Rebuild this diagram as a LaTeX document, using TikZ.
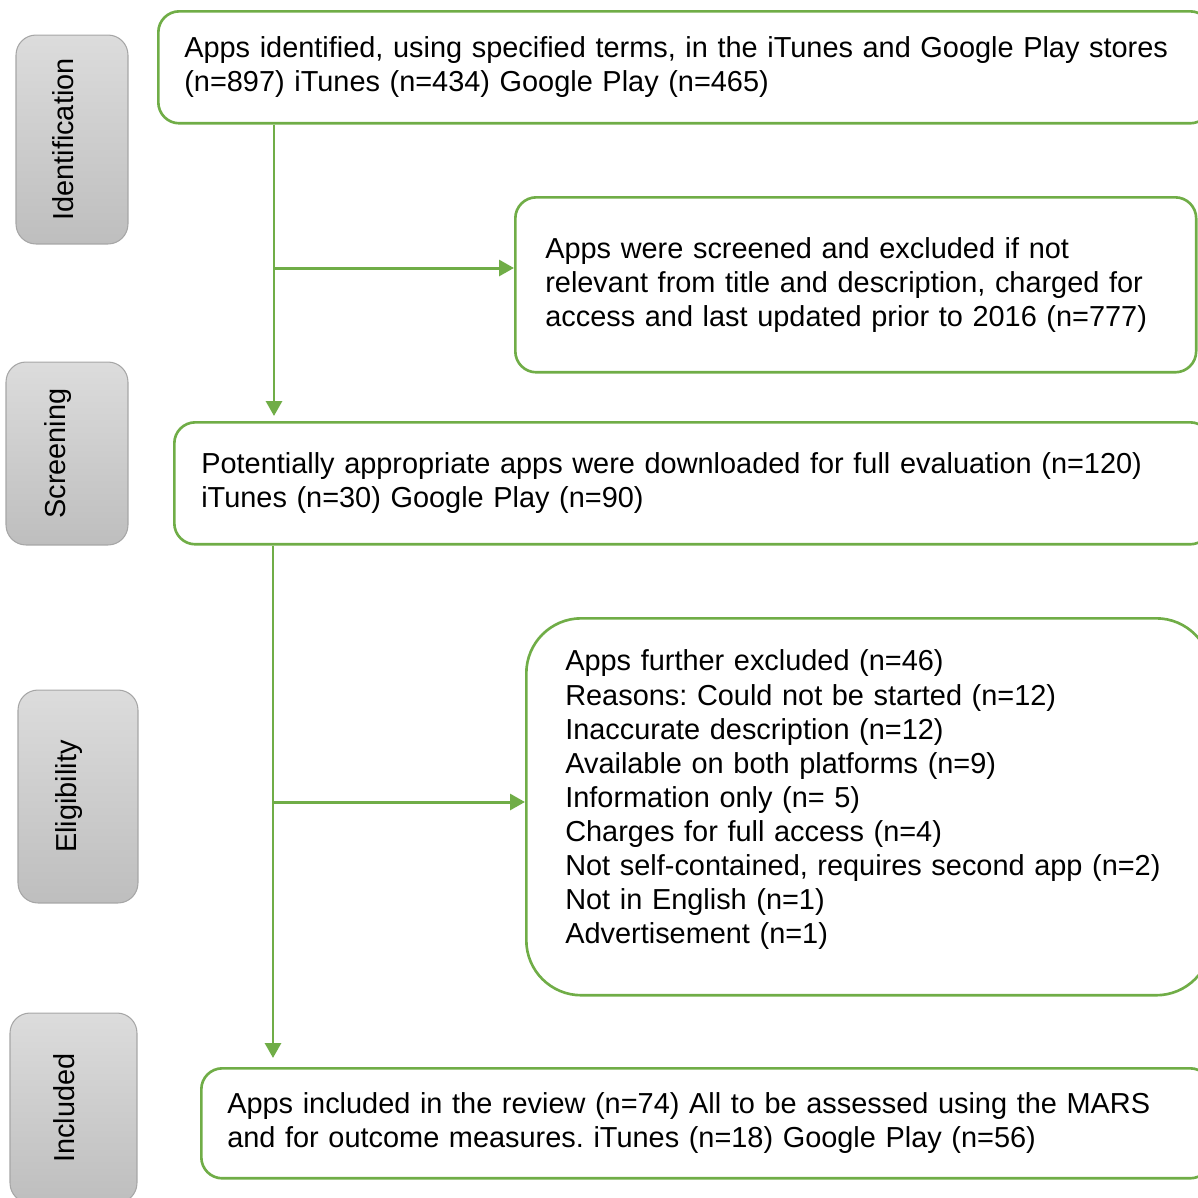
\documentclass[tikz,border=0pt]{standalone}
\usepackage{fontspec}
\usepackage{graphicx}
\setmainfont{Liberation Sans}
\usetikzlibrary{arrows.meta, positioning}
\definecolor{prismagreen}{HTML}{70AD47}
\definecolor{stagetop}{HTML}{DCDCDC}
\definecolor{stagebottom}{HTML}{BEBEBE}
\definecolor{stageedge}{HTML}{A6A6A6}
\frenchspacing

\begin{document}
\begin{tikzpicture}[x=0.02cm, y=-0.02cm,
            font=\fontsize{16.45}{19.4}\selectfont,
            stage/.style={rectangle, rounded corners=0.4cm, draw=stageedge, line width=0.6pt, top color=stagetop, bottom color=stagebottom, inner sep=0pt, align=center},
            record/.style={rectangle, rounded corners=0.42cm, draw=prismagreen, line width=1.5pt, anchor=north west, align=left, inner ysep=0pt},
            flow/.style={-{Triangle[length=0.3cm, width=0.32cm]}, line width=1.7pt, prismagreen}
        ]
\clip (0,0) rectangle (1198,1198);

% Stages
            \node[stage, minimum width=2.24cm, minimum height=4.18cm] (ident) at (72,139.5) {\rotatebox{90}{Identification}\hspace{0.36cm}};
            \node[stage, minimum width=2.44cm, minimum height=3.66cm] (screen) at (67,453.5) {\rotatebox{90}{Screening}\hspace{0.36cm}};
            \node[stage, minimum width=2.40cm, minimum height=4.26cm] (elig) at (78,796.5) {\rotatebox{90}{Eligibility}\hspace{0.36cm}};
            \node[stage, minimum width=2.54cm, minimum height=3.80cm] (incl) at (73.5,1108) {\rotatebox{90}{Included}\hspace{0.36cm}};

% Records
            \node[record, inner xsep=0.52cm, text width=20.02cm, minimum height=2.24cm] (found) at (157,10) {Apps identified, using specified terms, in the iTunes and Google Play stores\\(n=897) iTunes (n=434) Google Play (n=465)};
            \node[record, inner xsep=0.6cm, text width=12.42cm, minimum height=3.5cm] (screened) at (514,196) {Apps were screened and excluded if not\\relevant from title and description, charged for\\access and last updated prior to 2016 (n=777)};
            \node[record, inner xsep=0.54cm, text width=19.66cm, minimum height=2.44cm] (downloaded) at (173,421) {Potentially appropriate apps were downloaded for full evaluation (n=120)\\iTunes (n=30) Google Play (n=90)};
            \node[record, rounded corners=1.1cm, inner xsep=0.78cm, text width=12.14cm, minimum height=7.54cm] (excluded) at (525,617) {Apps further excluded (n=46)\\Reasons: Could not be started (n=12)\\Inaccurate description (n=12)\\Available on both platforms (n=9)\\Information only (n= 5)\\Charges for full access (n=4)\\Not self-contained, requires second app (n=2)\\Not in English (n=1)\\Advertisement (n=1)\rule[-0.4cm]{0pt}{0pt}};
            \node[record, inner xsep=0.52cm, text width=19.16cm, minimum height=2.2cm] (included) at (200,1067) {Apps included in the review (n=74) All to be assessed using the MARS\\and for outcome measures. iTunes (n=18) Google Play (n=56)};

% Flow
            \coordinate (split1) at (274,268);
            \coordinate (split2) at (273,802);
            \draw[flow, shorten >=0.1cm] (split1 |- found.south) -- (split1 |- downloaded.north);
            \draw[flow] (split1) -- (split1 -| screened.west);
            \draw[flow, shorten >=0.18cm] (split2 |- downloaded.south) -- (split2 |- included.north);
            \draw[flow] (split2) -- (split2 -| excluded.west);

        \end{tikzpicture}
\end{document}
